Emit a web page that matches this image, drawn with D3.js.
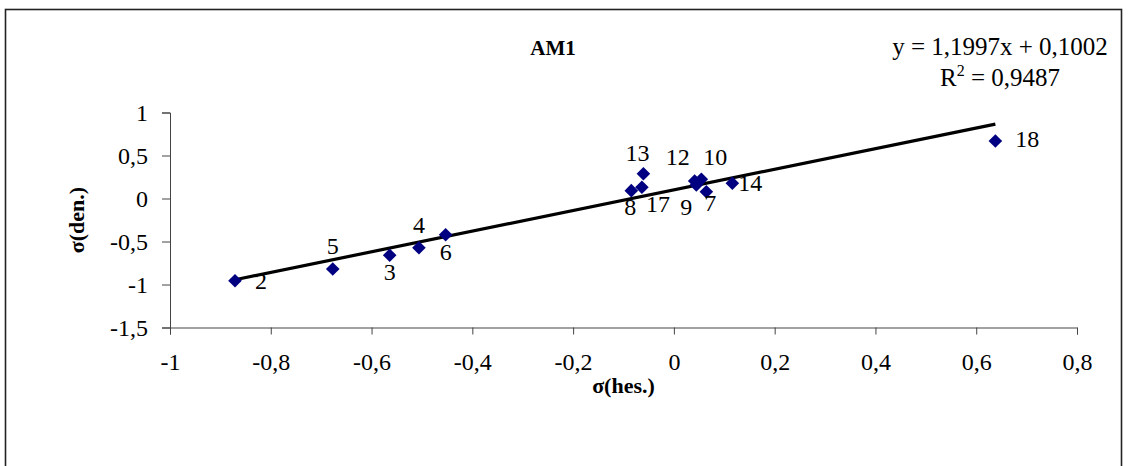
<!DOCTYPE html>
<html>
<head>
<meta charset="utf-8">
<script src="https://cdn.jsdelivr.net/npm/d3@7"></script>
<style>
  html, body { margin: 0; padding: 0; background: #fff; }
  svg { display: block; }
  text { font-family: "Liberation Serif", "Times New Roman", serif; fill: #000; }
</style>
</head>
<body>
<svg id="chart" width="1129" height="466"></svg>
<script>
// Point ids and their (hes., den.) sigma values
const ids    = ["2", "5", "3", "4", "6", "8", "17", "13", "12", "10", "9", "7", "14", "18"];
const xHes   = [-0.871, -0.677, -0.564, -0.506, -0.453, -0.0845, -0.0635, -0.0605, 0.0412, 0.0545, 0.0445, 0.0644, 0.116, 0.638];
const yDen   = [-0.956, -0.820, -0.660, -0.572, -0.421, 0.091, 0.130, 0.288, 0.203, 0.223, 0.157, 0.079, 0.177, 0.669];

// Linear trend line coefficients
const slope = 1.1997;
const intercept = 0.1002;
const rSquared = 0.9487;

// Axis ticks
const xTicks = [-1, -0.8, -0.6, -0.4, -0.2, 0, 0.2, 0.4, 0.6, 0.8];
const yTicks = [-1.5, -1, -0.5, 0, 0.5, 1];

const titleText = "AM1";
const xTitle = "σ(hes.)";
const yTitle = "σ(den.)";

// Label placement around each marker (pixel offsets of label centre)
const labelOffset = {
  "2": [26, 0], "5": [0, -23], "3": [0, 17], "4": [0, -23], "6": [0, 17],
  "8": [-1, 16], "17": [16, 17], "13": [-6, -21], "12": [-17, -24],
  "10": [14, -22], "9": [-10, 22], "7": [4, 11], "14": [18, 0], "18": [32, -2]
};

const fmt = v => String(v).replace(".", ",");

const svg = d3.select("#chart");

// Outer frame
svg.append("rect")
  .attr("x", 5.5).attr("y", 9.5)
  .attr("width", 1116).attr("height", 470)
  .attr("fill", "none").attr("stroke", "#222").attr("stroke-width", 1.6);

const x = d3.scaleLinear().domain([-1, 0.8]).range([170, 1077]);
const y = d3.scaleLinear().domain([-1.5, 1]).range([327.5, 112.5]);

// Y axis
const yAxis = svg.append("g")
  .attr("transform", `translate(${x.range()[0]},0)`)
  .call(d3.axisLeft(y).tickValues(yTicks).tickFormat(fmt).tickSize(8).tickPadding(14));
yAxis.select(".domain").attr("stroke", "#444");
yAxis.selectAll(".tick line").attr("stroke", "#444");
yAxis.selectAll(".tick text")
  .attr("font-size", 24).attr("font-family", "Liberation Serif, serif").attr("fill", "#000");

// X axis
const xAxis = svg.append("g")
  .attr("transform", `translate(0,${y.range()[0]})`)
  .call(d3.axisBottom(x).tickValues(xTicks).tickFormat(fmt).tickSize(7).tickPadding(18));
xAxis.select(".domain").attr("stroke", "#444");
xAxis.selectAll(".tick line").attr("stroke", "#444");
xAxis.selectAll(".tick text")
  .attr("font-size", 24).attr("font-family", "Liberation Serif, serif").attr("fill", "#000");

// Trend line across the data range
const xMin = d3.min(xHes), xMax = d3.max(xHes);
svg.append("line")
  .attr("x1", x(xMin)).attr("y1", y(slope * xMin + intercept))
  .attr("x2", x(xMax)).attr("y2", y(slope * xMax + intercept))
  .attr("stroke", "#000").attr("stroke-width", 3.2);

// Diamond markers
const pts = ids.map((id, i) => ({ id, xv: xHes[i], yv: yDen[i] }));
const r = 6.8;
svg.append("g").selectAll("path")
  .data(pts).join("path")
  .attr("d", d => {
    const cx = x(d.xv), cy = y(d.yv);
    return `M${cx},${cy - r}L${cx + r},${cy}L${cx},${cy + r}L${cx - r},${cy}Z`;
  })
  .attr("fill", "#000080");

// Point labels
svg.append("g").selectAll("text")
  .data(pts).join("text")
  .attr("x", d => x(d.xv) + labelOffset[d.id][0])
  .attr("y", d => y(d.yv) + labelOffset[d.id][1] + 8)
  .attr("text-anchor", "middle")
  .attr("font-size", 24)
  .text(d => d.id);

// Chart title
svg.append("text")
  .attr("x", 553).attr("y", 55)
  .attr("text-anchor", "middle")
  .attr("font-size", 21).attr("font-weight", "bold")
  .text(titleText);

// Axis titles
svg.append("text")
  .attr("x", (x.range()[0] + x.range()[1]) / 2).attr("y", 393)
  .attr("text-anchor", "middle")
  .attr("font-size", 22).attr("font-weight", "bold")
  .text(xTitle);

svg.append("text")
  .attr("transform", `translate(84,220) rotate(-90)`)
  .attr("text-anchor", "middle")
  .attr("font-size", 22).attr("font-weight", "bold")
  .text(yTitle);

// Regression equation
const eq = svg.append("text")
  .attr("text-anchor", "middle")
  .attr("font-size", 25);
eq.append("tspan").attr("x", 1000).attr("y", 55)
  .text(`y = ${fmt(slope)}x + ${fmt(intercept)}`);
const r2 = svg.append("text")
  .attr("x", 1000).attr("y", 86)
  .attr("text-anchor", "middle")
  .attr("font-size", 25);
r2.append("tspan").text("R");
r2.append("tspan").attr("dy", -10).attr("font-size", 16).text("2");
r2.append("tspan").attr("dy", 10).text(` = ${fmt(rSquared)}`);
</script>
</body>
</html>
